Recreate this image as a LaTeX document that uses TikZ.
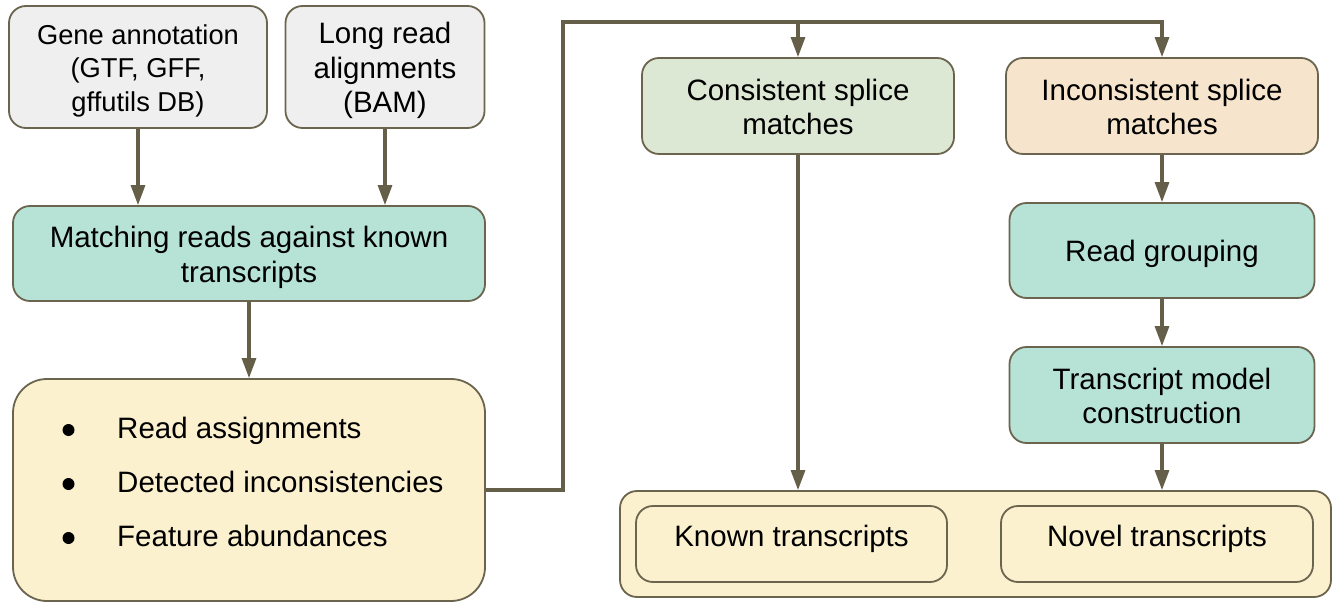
\documentclass[tikz,border=0pt]{standalone}
\usepackage{fontspec}
\setmainfont{Liberation Sans}
\usetikzlibrary{arrows.meta}
\definecolor{cedge}{HTML}{6B654F}
\definecolor{carrow}{HTML}{655E48}
\definecolor{cgray}{HTML}{EFEFEF}
\definecolor{cteal}{HTML}{B7E3D7}
\definecolor{cyel}{HTML}{FCF1CF}
\definecolor{cgreen}{HTML}{DDE8D4}
\definecolor{cpeach}{HTML}{F6E5CC}
\newcommand{\tstrut}[1]{\rule{0pt}{#1pt}}
\newcommand{\bstrut}{\rule[-7pt]{0pt}{7pt}}
\begin{document}
\begin{tikzpicture}[x=1pt,y=-1pt,
  box/.style={draw=cedge, line width=1.8pt, rounded corners=17pt, inner sep=0pt, align=center,
    font=\fontsize{29.5}{34.5}\selectfont},
  arr/.style={draw=carrow, line width=3.1pt, -{Triangle[length=20pt,width=14pt]}},
  txt/.style={font=\fontsize{29.5}{34.5}\selectfont, inner sep=0pt}]
\useasboundingbox (0,0) rectangle (1340,609);
\fill[white] (0,0) rectangle (1340,609);
% left column
\node[box, fill=cgray, minimum width=258, minimum height=122, font=\fontsize{27.3}{33.5}\selectfont] (gene) at (138,67) {\tstrut{29}Gene annotation\\(GTF, GFF,\\gffutils DB)\bstrut};
\node[box, fill=cgray, minimum width=199, minimum height=122] (long) at (385,67) {\tstrut{30}Long read\\alignments\\(BAM)\bstrut};
\node[box, fill=cteal, minimum width=472, minimum height=95] (match) at (249,253.5) {\tstrut{30}Matching reads against known\\transcripts\bstrut};
\node[box, fill=cyel, minimum width=472, minimum height=222, rounded corners=34pt] (res) at (249,490) {};
\node[txt, anchor=base west] (r1) at (117,438.5) {Read assignments};
\node[txt, anchor=base west] (r2) at (117,492.5) {Detected inconsistencies};
\node[txt, anchor=base west] (r3) at (117,546.5) {Feature abundances};
\fill (68.5,430) circle (6);
\fill (68.5,484) circle (6);
\fill (68.5,538) circle (6);
% right part
\node[box, fill=cgreen, minimum width=312, minimum height=96] (cons) at (798,106) {\tstrut{30}Consistent splice\\matches\bstrut};
\node[box, fill=cpeach, minimum width=312, minimum height=96] (inc) at (1162,106) {\tstrut{30}Inconsistent splice\\matches\bstrut};
\node[box, fill=cteal, minimum width=305, minimum height=95, text height=22pt, text depth=0pt] (rg) at (1162,250.5) {Read grouping};
\node[box, fill=cteal, minimum width=305, minimum height=96] (tm) at (1162,395) {\tstrut{30}Transcript model\\construction\bstrut};
\node[box, fill=cyel, minimum width=711, minimum height=106] (out) at (975.5,544) {};
\node[box, fill=cyel, minimum width=311, minimum height=76, text height=21pt, text depth=16pt] (known) at (791.5,544) {Known transcripts};
\node[box, fill=cyel, minimum width=312, minimum height=76, text height=21pt, text depth=16pt] (novel) at (1157,544) {Novel transcripts};
% connectors
\coordinate (top) at (563,22);
\draw[arr] (gene) -- (gene |- match.north);
\draw[arr] (long) -- (long |- match.north);
\draw[arr] (match) -- (res);
\draw[arr] (res.east) -| (top) -| (inc.north);
\draw[arr] (top -| cons.north) -- (cons.north);
\draw[arr] (cons.south) -- (cons.south |- out.north);
\draw[arr] (inc) -- (rg);
\draw[arr] (rg) -- (tm);
\draw[arr] (tm) -- (tm |- out.north);
\end{tikzpicture}
\end{document}
